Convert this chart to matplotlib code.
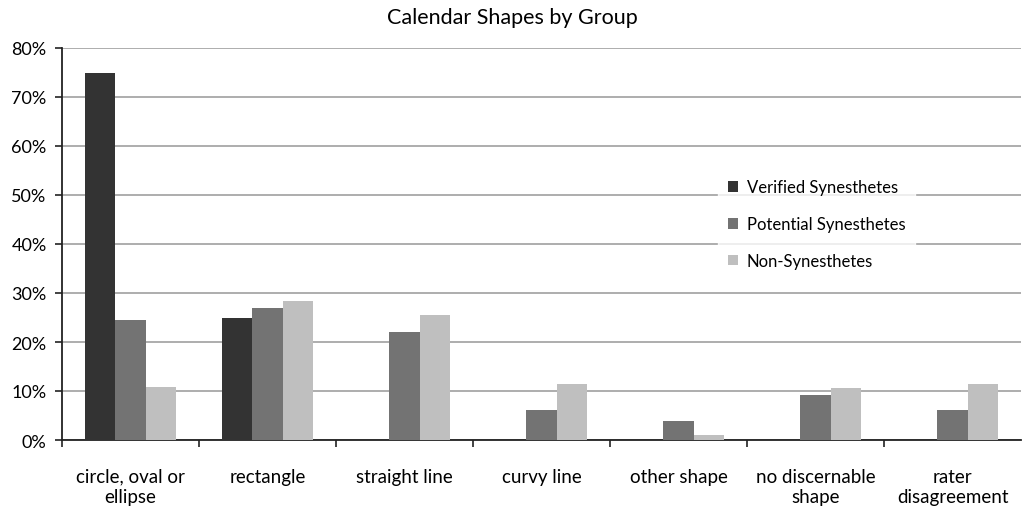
import matplotlib
matplotlib.use("Agg")
import matplotlib.pyplot as plt
import numpy as np
from matplotlib.ticker import PercentFormatter

categories = ["circle, oval or\nellipse", "rectangle", "straight line", "curvy line",
              "other shape", "no discernable\nshape", "rater\ndisagreement"]
verified = [75.0, 25.0, 0, 0, 0, 0, 0]
potential = [24.5, 27.0, 22.0, 6.2, 3.8, 9.2, 6.2]
non_syn = [10.8, 28.3, 25.5, 11.5, 1.1, 10.6, 11.5]
series_names = ["Verified Synesthetes", "Potential Synesthetes", "Non-Synesthetes"]
colors = ["#333333", "#737373", "#bfbfbf"]

plt.rcParams['font.family'] = ['Lato', 'DejaVu Sans']

fig = plt.figure(figsize=(10.23, 5.10), dpi=100)
ax = fig.add_axes([62/1023, 1-441/510, (1021-62)/1023, (441-49)/510])

x = np.arange(len(categories))
w = 0.222
for i, (vals, name, c) in enumerate(zip([verified, potential, non_syn], series_names, colors)):
    ax.bar(x + (i-1)*w, np.array(vals)/100, width=w, color=c, label=name, zorder=3)

ax.set_xlim(-0.5, len(categories)-0.5)
ax.set_ylim(0, 0.8)
ax.set_yticks(np.arange(0, 0.81, 0.1))
ax.yaxis.set_major_formatter(PercentFormatter(1.0, decimals=0))
ax.grid(axis='y', color='#a0a0a0', linewidth=1.2, zorder=0)
ax.set_axisbelow(True)

ax.set_xticks(x)
ax.set_xticklabels(categories, fontsize=13.5, linespacing=1.2)
ax.set_xticks(np.arange(-0.5, len(categories)-0.5, 1.0), minor=True)
ax.tick_params(axis='x', which='major', length=0, pad=20)
ax.tick_params(axis='x', which='minor', length=5, width=1.2, color='#222222')
ax.tick_params(axis='y', labelsize=13, length=5, width=1.2, color='#222222', pad=6)
for s in ['top', 'right']:
    ax.spines[s].set_visible(False)
for s in ['left', 'bottom']:
    ax.spines[s].set_color('#222222')
    ax.spines[s].set_linewidth(1.3)

fig.text(512/1023, 1-18/510, "Calendar Shapes by Group", ha='center', va='center', fontsize=15.5)

leg = ax.legend(loc='upper left', bbox_to_anchor=(710/1023, 1-162/510),
                bbox_transform=fig.transFigure, frameon=True, fontsize=12,
                handlelength=0.6, handleheight=0.6, handletextpad=0.5,
                labelspacing=1.25, borderpad=0.6, fancybox=False)
leg.get_frame().set_facecolor('white')
leg.get_frame().set_edgecolor('white')

fig.savefig("out.png", dpi=100)
